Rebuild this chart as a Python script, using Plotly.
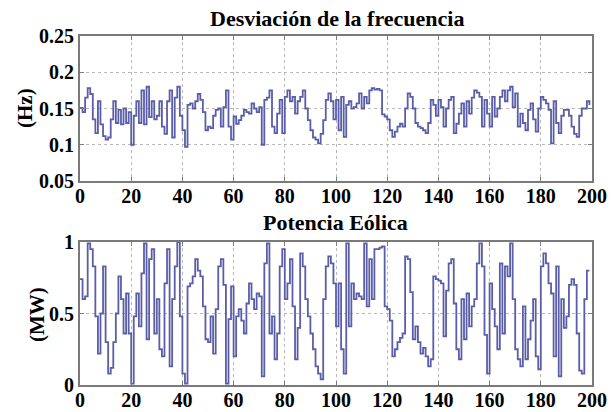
import plotly.graph_objects as go

# ---- data ----
t = list(range(200))

freq_dev = [
    0.151, 0.145, 0.165, 0.178, 0.170, 0.135, 0.116, 0.160, 0.128, 0.112,
    0.107, 0.110, 0.135, 0.160, 0.130, 0.148, 0.128, 0.150, 0.130, 0.145,
    0.100, 0.140, 0.160, 0.130, 0.175, 0.128, 0.180, 0.138, 0.160, 0.135,
    0.140, 0.160, 0.125, 0.115, 0.160, 0.175, 0.110, 0.165, 0.180, 0.140,
    0.120, 0.097, 0.155, 0.157, 0.150, 0.160, 0.170, 0.162, 0.145, 0.120,
    0.125, 0.123, 0.140, 0.148, 0.150, 0.125, 0.152, 0.175, 0.125, 0.107,
    0.139, 0.129, 0.134, 0.140, 0.148, 0.145, 0.143, 0.157, 0.150, 0.145,
    0.152, 0.100, 0.162, 0.165, 0.175, 0.125, 0.116, 0.143, 0.162, 0.116,
    0.166, 0.175, 0.160, 0.166, 0.143, 0.160, 0.166, 0.175, 0.150, 0.134,
    0.120, 0.110, 0.107, 0.102, 0.115, 0.134, 0.162, 0.171, 0.160, 0.135,
    0.162, 0.120, 0.166, 0.111, 0.155, 0.160, 0.150, 0.152, 0.157, 0.171,
    0.150, 0.166, 0.157, 0.175, 0.178, 0.176, 0.177, 0.175, 0.142, 0.139,
    0.135, 0.120, 0.111, 0.118, 0.125, 0.129, 0.125, 0.150, 0.171, 0.166,
    0.150, 0.130, 0.125, 0.123, 0.120, 0.116, 0.130, 0.162, 0.155, 0.140,
    0.162, 0.152, 0.125, 0.150, 0.162, 0.166, 0.116, 0.129, 0.143, 0.157,
    0.125, 0.160, 0.143, 0.165, 0.175, 0.172, 0.166, 0.125, 0.162, 0.143,
    0.125, 0.166, 0.139, 0.150, 0.166, 0.175, 0.160, 0.175, 0.180, 0.152,
    0.171, 0.125, 0.143, 0.130, 0.120, 0.148, 0.157, 0.135, 0.118, 0.150,
    0.166, 0.162, 0.157, 0.148, 0.102, 0.160, 0.130, 0.116, 0.140, 0.148,
    0.148, 0.140, 0.125, 0.115, 0.111, 0.140, 0.150, 0.150, 0.160, 0.155,
]

wind_power = [
    0.74, 0.60, 0.62, 0.99, 0.95, 0.83, 0.48, 0.22, 0.50, 0.83,
    0.30, 0.08, 0.12, 0.30, 0.50, 0.76, 0.60, 0.36, 0.64, 0.36,
    0.01, 0.48, 0.64, 0.41, 0.78, 0.99, 0.32, 0.88, 0.95, 0.36,
    0.60, 0.25, 0.20, 0.71, 0.95, 0.13, 0.60, 0.83, 1.00, 0.48,
    0.08, 0.01, 0.69, 0.71, 0.76, 0.88, 0.80, 0.76, 0.55, 0.32,
    0.30, 0.48, 0.22, 0.53, 0.83, 0.88, 0.70, 0.01, 0.46, 0.69,
    0.20, 0.48, 0.53, 0.45, 0.36, 0.57, 0.71, 0.60, 0.53, 0.64,
    0.62, 0.06, 0.85, 0.99, 0.36, 0.48, 0.18, 0.36, 0.83, 0.95,
    0.60, 0.71, 0.88, 0.55, 0.18, 0.40, 0.92, 0.83, 0.60, 0.48,
    0.36, 0.25, 0.13, 0.08, 0.04, 0.60, 0.83, 0.90, 0.85, 0.71,
    0.41, 0.71, 0.25, 0.08, 0.99, 0.41, 0.71, 0.60, 0.64, 0.62,
    0.60, 0.99, 0.55, 0.88, 0.60, 0.95, 0.95, 0.96, 0.97, 0.55,
    0.53, 0.45, 0.20, 0.25, 0.30, 0.33, 0.36, 0.90, 0.88, 0.65,
    0.32, 0.41, 0.30, 0.22, 0.26, 0.20, 0.13, 0.18, 0.76, 0.74,
    0.73, 0.71, 0.34, 0.66, 0.85, 0.88, 0.57, 0.25, 0.18, 0.60,
    0.32, 0.64, 0.41, 0.55, 0.60, 0.85, 0.99, 0.83, 0.35, 0.08,
    0.71, 0.53, 0.41, 0.25, 0.85, 0.36, 0.83, 0.76, 0.99, 0.60,
    0.25, 0.18, 0.13, 0.55, 0.18, 0.32, 0.45, 0.60, 0.20, 0.11,
    0.83, 0.92, 0.85, 0.71, 0.64, 0.20, 0.83, 0.06, 0.60, 0.40,
    0.48, 0.70, 0.74, 0.70, 0.36, 0.10, 0.08, 0.60, 0.80, 0.80,
]

x_ticks = [0, 20, 40, 60, 80, 100, 120, 140, 160, 180, 200]
y1_ticks = [0.05, 0.1, 0.15, 0.2, 0.25]
y1_labels = ["0.05", "0.1", "0.15", "0.2", "0.25"]
y2_ticks = [0, 0.5, 1]
y2_labels = ["0", "0.5", "1"]

title_top = "Desviación de la frecuencia"
title_bottom = "Potencia Eólica"
ylabel_top = "(Hz)"
ylabel_bottom = "(MW)"

# ---- styling ----
FONT = "Liberation Serif"
LINE = "#5a5ea8"
BOX = "#7a7a7a"
GRID = "#b8b8b8"

W, H = 611, 412
def px_x(p):
    return p / W
def px_y(p):
    return 1 - p / H

fig = go.Figure()
fig.add_trace(go.Scatter(x=t, y=freq_dev, mode="lines", line=dict(color=LINE, width=1.8, shape="hv"),
                         xaxis="x", yaxis="y", showlegend=False))
fig.add_trace(go.Scatter(x=t, y=wind_power, mode="lines", line=dict(color=LINE, width=1.8, shape="hv"),
                         xaxis="x2", yaxis="y2", showlegend=False))

tickfont = dict(family=FONT, size=20, color="black", weight="bold")
common_x = dict(range=[0, 200], tickvals=x_ticks, ticktext=[str(v) for v in x_ticks],
                showline=True, linecolor=BOX, linewidth=2, mirror="ticks",
                ticks="inside", ticklen=4, tickcolor=BOX, automargin=False,
                ticklabelstandoff=-4,
                showgrid=True, gridcolor=GRID, griddash="dot", gridwidth=1,
                zeroline=False, tickfont=tickfont, domain=[px_x(80), px_x(592)])
common_y = dict(showline=True, linecolor=BOX, linewidth=2, mirror="ticks",
                ticks="inside", ticklen=4, tickcolor=BOX, automargin=False,
                showgrid=True, gridcolor=GRID, griddash="dot", gridwidth=1,
                zeroline=False, tickfont=tickfont)

title_font = dict(family=FONT, size=22, color="black", weight="bold")
lab_font = dict(family=FONT, size=21, color="black", weight="bold")
fig.update_layout(
    width=W, height=H,
    margin=dict(l=0, r=0, t=0, b=0, autoexpand=False),
    paper_bgcolor="white", plot_bgcolor="white",
    xaxis=dict(**common_x, anchor="y"),
    yaxis=dict(**common_y, range=[0.05, 0.25], tickvals=y1_ticks, ticktext=y1_labels,
               domain=[px_y(181), px_y(36)], anchor="x"),
    xaxis2=dict(**common_x, anchor="y2"),
    yaxis2=dict(**common_y, range=[0, 1], tickvals=y2_ticks, ticktext=y2_labels,
                domain=[px_y(385), px_y(242)], anchor="x2"),
    annotations=[
        dict(text=title_top, x=px_x(337), y=px_y(19), xref="paper", yref="paper",
             xanchor="center", yanchor="middle", showarrow=False, font=title_font),
        dict(text=title_bottom, x=px_x(335), y=px_y(222), xref="paper", yref="paper",
             xanchor="center", yanchor="middle", showarrow=False, font=title_font),
        dict(text=ylabel_top, x=px_x(25), y=px_y(108), xref="paper", yref="paper", textangle=-90,
             xanchor="center", yanchor="middle", showarrow=False, font=lab_font),
        dict(text=ylabel_bottom, x=px_x(37), y=px_y(315), xref="paper", yref="paper", textangle=-90,
             xanchor="center", yanchor="middle", showarrow=False, font=lab_font),
    ],
)

fig.write_html("out.html")
